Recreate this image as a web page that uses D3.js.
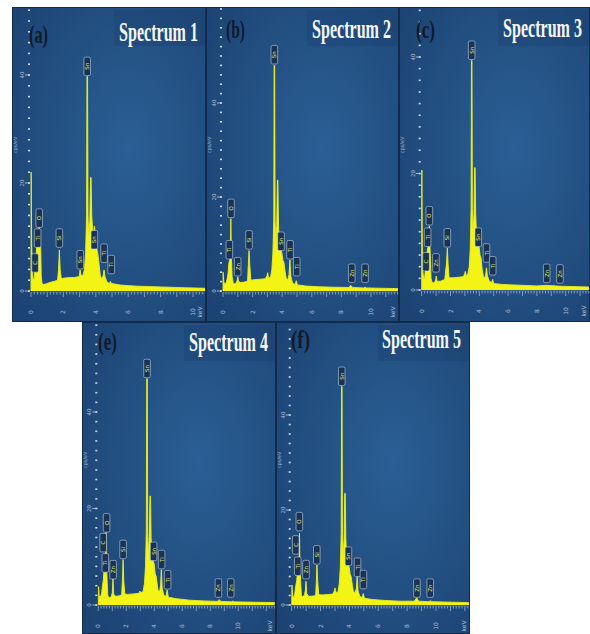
<!DOCTYPE html>
<html><head><meta charset="utf-8">
<script src="https://cdn.jsdelivr.net/npm/d3@7"></script>
<style>html,body{margin:0;padding:0;background:#fff;} svg{display:block}</style>
</head><body><svg id="chart" width="590" height="634"></svg>
<script>
// ---------- data ----------
const panelLetters = ["(a)", "(b)", "(c)", "(e)", "(f)"];
const spectrumTitles = ["Spectrum 1", "Spectrum 2", "Spectrum 3", "Spectrum 4", "Spectrum 5"];
const xTickValues = [0, 2, 4, 6, 8, 10];
const yTickValues = [0, 20, 40];
const yAxisLabel = "cps/eV";
const xUnitLabel = "keV";

// [energy keV, intensity cps/eV]
const spectrum1 = [[0,0],[0.01,22],[0.04,9],[0.08,3.5],[0.14,2],[0.2,2.2],[0.25,5],[0.3,6],[0.36,8.5],[0.44,9.5],[0.5,12],[0.56,10],[0.6,8],[0.63,3],[0.68,1.4],[0.8,1.2],[1.0,1.4],[1.2,1.6],[1.45,1.8],[1.64,2.0],[1.7,4],[1.75,7.6],[1.8,4],[1.87,2.3],[2.1,2.4],[2.4,2.5],[2.7,2.5],[2.98,2.7],[3.03,3.9],[3.08,3.0],[3.2,2.8],[3.3,4],[3.37,7],[3.43,14],[3.455,39.7],[3.49,39.7],[3.52,14],[3.57,10],[3.63,13],[3.675,21],[3.71,21],[3.75,14],[3.81,11],[3.87,11],[3.92,12],[3.98,10],[4.05,8],[4.12,7],[4.2,5],[4.28,2.8],[4.36,2.3],[4.45,2.8],[4.51,3.9],[4.57,2.6],[4.7,1.6],[4.84,1.4],[4.9,1.8],[4.96,1.4],[5.5,1.1],[6.5,0.9],[8,0.75],[9.5,0.6],[10.8,0.5]];
const spectrum2 = [[0,0],[0.01,4],[0.05,2],[0.12,1.4],[0.22,1.8],[0.28,2.6],[0.34,3.8],[0.4,6],[0.45,6.6],[0.49,7],[0.53,15.4],[0.57,7],[0.62,3],[0.7,1.6],[0.85,1.5],[0.95,2.2],[1.0,3.0],[1.05,2.0],[1.2,1.8],[1.45,1.9],[1.66,2.1],[1.71,5.5],[1.76,8.6],[1.81,5.5],[1.88,2.3],[2.1,2.4],[2.5,2.5],[2.85,2.6],[2.97,3.2],[3.02,3.9],[3.07,2.9],[3.2,2.8],[3.3,4.5],[3.37,8],[3.43,15],[3.455,48],[3.49,48],[3.52,15],[3.57,10],[3.63,14],[3.675,23.6],[3.71,23.6],[3.75,14],[3.81,9],[3.87,8.5],[3.92,9],[3.98,8],[4.05,6.5],[4.12,6],[4.2,4],[4.28,2.6],[4.38,2.4],[4.46,3.5],[4.52,6.6],[4.58,3.2],[4.7,1.7],[4.86,1.4],[4.95,2.2],[5.03,1.3],[5.6,1.05],[6.5,0.9],[7.5,0.8],[8.5,0.75],[8.63,1.2],[8.76,0.75],[9.5,0.65],[9.6,0.8],[9.7,0.65],[11.9,0.5]];
const spectrum3 = [[0,0],[0.01,20.6],[0.04,8],[0.08,3.2],[0.14,1.8],[0.2,2],[0.26,3.5],[0.31,4],[0.37,6.5],[0.43,7.3],[0.48,8],[0.53,11],[0.57,8],[0.61,5],[0.65,2],[0.72,1.3],[0.85,1.2],[0.97,1.7],[1.01,2.4],[1.06,1.5],[1.3,1.5],[1.6,1.8],[1.72,4.5],[1.78,7.2],[1.83,4.5],[1.9,2.1],[2.2,2.1],[2.6,2.2],[2.9,2.3],[2.98,2.8],[3.03,3.2],[3.08,2.5],[3.2,2.7],[3.3,4],[3.37,7],[3.43,14],[3.455,39.4],[3.49,39.4],[3.52,14],[3.57,10],[3.63,13],[3.675,21],[3.71,21],[3.75,13],[3.81,9],[3.87,8],[3.92,8.5],[3.98,7.5],[4.05,6],[4.12,5.5],[4.2,3.5],[4.3,2.2],[4.42,2.2],[4.5,3.8],[4.56,2.4],[4.7,1.5],[4.86,1.3],[4.93,1.8],[5.0,1.1],[5.6,0.95],[6.5,0.85],[8,0.7],[8.65,0.8],[9.6,0.65],[11.7,0.5]];
const spectrum4 = [[0,0],[0.02,3.8],[0.06,2],[0.12,1.5],[0.22,2.2],[0.3,4],[0.36,5.2],[0.42,8],[0.47,10],[0.52,10],[0.55,15],[0.58,9],[0.63,5],[0.68,2],[0.75,1.5],[0.9,1.6],[1.0,2.5],[1.05,5.5],[1.1,2.2],[1.25,1.8],[1.5,1.9],[1.67,2.1],[1.72,5],[1.77,9.4],[1.82,5],[1.89,2.3],[2.1,2.2],[2.5,2.3],[2.85,2.4],[2.93,2.6],[2.97,2.9],[3.02,2.5],[3.2,2.8],[3.3,4.5],[3.37,8],[3.43,15],[3.46,46.9],[3.5,46.9],[3.53,15],[3.58,10],[3.64,14],[3.69,22.6],[3.73,22.6],[3.77,14],[3.83,10],[3.88,9.5],[3.93,9],[3.99,8.5],[4.06,6.5],[4.13,6],[4.2,4.5],[4.27,3],[4.38,2.8],[4.45,4],[4.5,7.3],[4.56,3.5],[4.68,2],[4.84,1.8],[4.92,3.1],[5.0,1.6],[5.6,1.3],[6.5,1.0],[7.5,0.85],[8.5,0.75],[8.63,1.1],[8.76,0.75],[9.5,0.65],[9.6,0.8],[9.7,0.65],[12.6,0.5]];
const spectrum5 = [[0,0],[0.02,4.2],[0.06,2],[0.12,1.5],[0.2,2.2],[0.28,4],[0.35,5.2],[0.42,7.5],[0.47,9.5],[0.51,9.5],[0.54,15.1],[0.57,9],[0.62,5],[0.67,2],[0.75,1.8],[0.88,2],[0.95,3.2],[0.99,5],[1.04,2.4],[1.2,1.8],[1.5,1.9],[1.66,2.0],[1.71,5],[1.75,8.4],[1.8,5],[1.87,2.2],[2.1,2.1],[2.5,2.2],[2.85,2.3],[2.96,3.0],[3.0,3.6],[3.05,2.7],[3.2,2.7],[3.3,4.5],[3.37,8],[3.43,15],[3.455,46],[3.49,46],[3.52,15],[3.57,10],[3.63,14],[3.675,23.5],[3.71,23.5],[3.75,14],[3.81,9.5],[3.87,9],[3.92,8.5],[3.98,8],[4.05,6.5],[4.12,6],[4.2,4.2],[4.28,2.8],[4.4,2.6],[4.48,3.5],[4.54,6],[4.6,3],[4.72,1.8],[4.88,1.6],[4.96,2.4],[5.04,1.4],[5.6,1.15],[6.5,0.95],[7.5,0.8],[8.5,0.8],[8.66,1.5],[8.8,0.8],[9.5,0.7],[9.6,0.9],[9.7,0.7],[12.3,0.5]];

// [element, energy keV, intensity at label foot]
const peakLabels1 = [["C",0.25,3.3],["Ti",0.41,7.9],["O",0.51,11.6],["Si",1.75,7.9],["Sn",3.04,3.9],["Sn",3.47,39.7],["Sn",3.91,7.6],["Ti",4.51,5.1],["Ti",4.95,3.0]];
const peakLabels2 = [["Ti",0.43,6.6],["O",0.54,15.4],["Zn",0.99,3.0],["Si",1.76,8.7],["Sn",3.47,48.1],["Sn",3.92,8.4],["Ti",4.53,6.6],["Ti",4.98,3.0],["Zn",8.7,1.6],["Zn",9.6,1.6]];
const peakLabels3 = [["C",0.3,3.1],["Ti",0.41,7.3],["O",0.53,11],["Zn",0.99,2.9],["Si",1.78,7.2],["Sn",3.47,39.4],["Sn",3.93,7.3],["Ti",4.5,4.6],["Ti",4.93,2.4],["Zn",8.68,1.1],["Zn",9.6,1.0]];
const peakLabels4 = [["C",0.35,10.8],["Ti",0.5,6.6],["O",0.59,14.9],["Zn",1.06,5.2],["Si",1.77,9.4],["Sn",3.48,46.9],["Sn",3.95,9],["Ti",4.52,7.3],["Ti",4.95,3.1],["Zn",8.58,1.4],["Zn",9.46,1.4]];
const peakLabels5 = [["C",0.28,10.5],["Ti",0.42,6.0],["O",0.53,15.4],["Zn",0.99,5.3],["Si",1.74,8.4],["Sn",3.47,46],["Sn",3.93,8.1],["Ti",4.56,5.8],["Ti",4.97,3.2],["Zn",8.68,1.4],["Zn",9.6,1.4]];

const spectra = [spectrum1, spectrum2, spectrum3, spectrum4, spectrum5];
const peakLabels = [peakLabels1, peakLabels2, peakLabels3, peakLabels4, peakLabels5];

// ---------- layout (pixels) ----------
const layout = [
  {left:12,  top:7,   w:194, h:315, x0:31,    x10:193,   base:291, y40:75,  tx:198, ty:41, lx:29,  ly:43},
  {left:206, top:7,   w:193, h:315, x0:223,   x10:371,   base:291, y40:103, tx:391, ty:38, lx:226, ly:38},
  {left:399, top:7,   w:191, h:315, x0:421.7, x10:565.7, base:290, y40:57,  tx:582, ty:37, lx:416, ly:38},
  {left:82,  top:322, w:194, h:312, x0:98.3,  x10:238.3, base:605, y40:412, tx:268, ty:351, lx:98, ly:350},
  {left:276, top:322, w:194, h:312, x0:291.7, x10:436,   base:605, y40:415, tx:461, ty:348, lx:291, ly:348}
];

const svg = d3.select("#chart");
const defs = svg.append("defs");
const grad = defs.append("radialGradient").attr("id","bg").attr("cx","60%").attr("cy","45%").attr("r","75%");
grad.append("stop").attr("offset","0%").attr("stop-color","#2b5f95");
grad.append("stop").attr("offset","100%").attr("stop-color","#1c4373");

function fitText(sel, width) {
  const n = sel.node();
  const w = n.getComputedTextLength();
  const x = +sel.attr("data-x"), y = +sel.attr("data-y");
  const s = width / w;
  sel.attr("transform", `translate(${x},${y}) scale(${s},1)`);
}

layout.forEach((L, i) => {
  const clipId = "clip" + i;
  defs.append("clipPath").attr("id", clipId)
    .append("rect").attr("x", L.left).attr("y", L.top).attr("width", L.w).attr("height", L.h);
  const g = svg.append("g").attr("clip-path", `url(#${clipId})`);

  const x = d3.scaleLinear().domain([0, 10]).range([L.x0, L.x10]);
  const y = d3.scaleLinear().domain([0, 40]).range([L.base, L.y40]);
  const xMax = x.invert(L.left + L.w);
  const yMax = y.invert(L.top);

  g.append("rect").attr("x", L.left).attr("y", L.top).attr("width", L.w).attr("height", L.h)
    .attr("fill", "url(#bg)");
  g.append("rect").attr("x", L.left + L.w - 92).attr("y", L.top + 3).attr("width", 92).attr("height", 36)
    .attr("fill", "#1a3f6c").attr("opacity", 0.35);

  // y axis dotted ticks
  const yMinor = d3.range(0, yMax, 2);
  g.selectAll(".ydot").data(yMinor).join("rect")
    .attr("x", L.x0 - 3).attr("y", d => y(d) - 0.8).attr("width", 2).attr("height", 1.6)
    .attr("fill", "#cfdbe8");
  g.selectAll(".ymaj").data(yTickValues).join("line")
    .attr("x1", L.x0 - 6).attr("x2", L.x0 - 1).attr("y1", d => y(d)).attr("y2", d => y(d))
    .attr("stroke", "#c3d1e0").attr("stroke-width", 0.8);
  g.selectAll(".ylab").data(yTickValues).join("text")
    .attr("transform", d => `translate(${L.x0 - 7},${y(d)}) rotate(-90)`)
    .attr("text-anchor", "middle").attr("font-family", "DejaVu Sans").attr("font-size", 5.5)
    .attr("fill", "#aebfd2").text(d => d);
  g.append("text")
    .attr("transform", `translate(${L.left + 5},${L.top + 138}) rotate(-90)`)
    .attr("text-anchor", "middle").attr("font-family", "DejaVu Sans").attr("font-size", 5)
    .attr("fill", "#9fb2c8").text(yAxisLabel);

  // x axis ticks
  const xMinorT = d3.range(0, xMax, 0.2);
  g.selectAll(".xt").data(xMinorT).join("line")
    .attr("x1", d => x(d)).attr("x2", d => x(d))
    .attr("y1", L.base + 1).attr("y2", d => L.base + (Math.abs(d - Math.round(d)) < 0.01 ? 6 : 3.5))
    .attr("stroke", "#aebfd2").attr("stroke-width", 0.7);
  g.append("line").attr("x1", L.x0).attr("x2", L.left + L.w).attr("y1", L.base + 1).attr("y2", L.base + 1)
    .attr("stroke", "#aebfd2").attr("stroke-width", 0.5).attr("opacity", 0.6);
  g.selectAll(".xlab").data(xTickValues).join("text")
    .attr("transform", d => `translate(${x(d) + 2},${L.base + 21}) rotate(-90)`)
    .attr("text-anchor", "middle").attr("font-family", "DejaVu Sans").attr("font-size", 6)
    .attr("fill", "#aebfd2").text(d => d);
  g.append("text")
    .attr("transform", `translate(${L.left + L.w - 4},${L.base + 21}) rotate(-90)`)
    .attr("text-anchor", "middle").attr("font-family", "DejaVu Sans").attr("font-size", 6)
    .attr("fill", "#aebfd2").text(xUnitLabel);

  // spectrum
  const area = d3.area().x(d => x(d[0])).y0(L.base).y1(d => y(d[1]));
  const line = d3.line().x(d => x(d[0])).y(d => y(d[1]));
  g.append("path").datum(spectra[i]).attr("d", area).attr("fill", "#f4f414");
  g.append("path").datum(spectra[i]).attr("d", line).attr("fill", "none")
    .attr("stroke", "#eaf020").attr("stroke-width", 0.9);

  // peak labels
  const lg = g.selectAll(".pl").data(peakLabels[i]).join("g")
    .attr("transform", d => `translate(${x(d[1])},${y(d[2]) - 1})`);
  lg.append("rect").attr("x", -3.3).attr("y", -18.5).attr("width", 6.6).attr("height", 18.5).attr("rx", 1.5)
    .attr("fill", "#1a3354").attr("stroke", "#c3d2e2").attr("stroke-width", 0.6);
  lg.append("text").attr("transform", "translate(2,-9.25) rotate(-90)")
    .attr("text-anchor", "middle").attr("font-family", "DejaVu Sans").attr("font-size", 5.5)
    .attr("fill", "#d9e46c").text(d => d[0]);

  // titles
  const t = svg.append("text").attr("data-x", L.tx).attr("data-y", L.ty)
    .attr("text-anchor", "end").attr("font-family", "Liberation Serif").attr("font-weight", "bold")
    .attr("font-size", 27).attr("fill", "#f4f6f8").text(spectrumTitles[i]);
  fitText(t, 79);
  const p = svg.append("text").attr("data-x", L.lx).attr("data-y", L.ly)
    .attr("font-family", "Liberation Serif").attr("font-weight", "bold")
    .attr("font-size", 25).attr("fill", "#0f1a2c").text(panelLetters[i]);
  fitText(p, 19);

  svg.append("rect").attr("x", L.left + 0.5).attr("y", L.top + 0.5).attr("width", L.w - 1).attr("height", L.h - 1)
    .attr("fill", "none").attr("stroke", "#132b4b").attr("stroke-width", 1);
});
</script></body></html>
